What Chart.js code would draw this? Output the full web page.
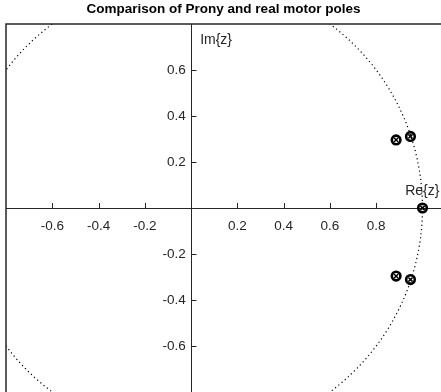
<!DOCTYPE html>
<html>
<head>
<meta charset="utf-8">
<script src="https://cdn.jsdelivr.net/npm/chart.js@4.4.0/dist/chart.umd.min.js"></script>
<style>
  html, body { margin: 0; padding: 0; background: #fff; }
  #wrap { width: 441px; height: 392px; }
</style>
</head>
<body>
<div id="wrap"><canvas id="poles"></canvas></div>
<script>
// z-plane pole locations (real part / imaginary part)
const realPolesRe = [0.886, 0.886, 0.948, 0.948, 1.0];
const realPolesIm = [0.296, -0.296, 0.311, -0.311, 0.0];
const pronyPolesRe = [0.886, 0.886, 0.948, 0.948, 1.0];
const pronyPolesIm = [0.296, -0.296, 0.311, -0.311, 0.0];

const xTicks = [-0.6, -0.4, -0.2, 0.2, 0.4, 0.6, 0.8];
const yTicks = [-0.6, -0.4, -0.2, 0.2, 0.4, 0.6];

const INK = "#262626";
const FONT = "'Liberation Sans', Arial, sans-serif";

const toPoints = (re, im) => re.map((x, i) => ({ x, y: im[i] }));

// axes sit inside the plot, so they should not push the chart area in
const noPadding = s => {
  s.paddingTop = s.paddingBottom = s.paddingLeft = s.paddingRight = 0;
};

// unit circle, frame, imaginary axis line, inward tick marks and axis names
const zPlane = {
  id: "zPlane",
  beforeDatasetsDraw(chart) {
    const { ctx, chartArea: a, scales: { x, y } } = chart;
    const cx = x.getPixelForValue(0), cy = y.getPixelForValue(0);
    const rx = x.getPixelForValue(1) - cx;
    const ry = cy - y.getPixelForValue(1);

    ctx.save();
    ctx.beginPath();
    ctx.rect(a.left, a.top, a.right - a.left, a.bottom - a.top);
    ctx.clip();
    ctx.strokeStyle = "#000";
    ctx.lineWidth = 1.2;
    ctx.setLineDash([1.2, 3]);
    ctx.beginPath();
    ctx.ellipse(cx, cy, rx, ry, 0, 0, Math.PI * 2);
    ctx.stroke();
    ctx.restore();

    ctx.save();
    ctx.strokeStyle = INK;
    ctx.lineWidth = 1.5;
    ctx.beginPath();
    ctx.moveTo(a.left, a.bottom);
    ctx.lineTo(a.left, a.top);
    ctx.lineTo(a.right, a.top);
    ctx.stroke();

    ctx.lineWidth = 1;
    ctx.beginPath();
    const ax = Math.round(cx) + 0.5;
    ctx.moveTo(ax, a.top);
    ctx.lineTo(ax, a.bottom);
    // tick marks point into the upper / right half
    x.ticks.forEach(t => {
      const px = Math.round(x.getPixelForValue(t.value)) + 0.5;
      ctx.moveTo(px, cy);
      ctx.lineTo(px, cy - 5);
    });
    y.ticks.forEach(t => {
      const py = Math.round(y.getPixelForValue(t.value)) + 0.5;
      ctx.moveTo(ax, py);
      ctx.lineTo(ax + 5, py);
    });
    ctx.stroke();

    ctx.fillStyle = INK;
    ctx.font = "14px " + FONT;
    ctx.textBaseline = "middle";
    ctx.textAlign = "left";
    ctx.fillText("Im{z}", x.getPixelForValue(0.039), y.getPixelForValue(0.73));
    ctx.fillText("Re{z}", x.getPixelForValue(0.925), y.getPixelForValue(0.075));
    ctx.restore();
  }
};

new Chart(document.getElementById("poles"), {
  type: "scatter",
  data: {
    datasets: [
      {
        label: "Real motor poles",
        data: toPoints(realPolesRe, realPolesIm),
        pointStyle: "circle",
        pointRadius: 4.3,
        borderColor: "#000",
        backgroundColor: "rgba(0,0,0,0)",
        borderWidth: 2.6,
      },
      {
        label: "Prony poles",
        data: toPoints(pronyPolesRe, pronyPolesIm),
        pointStyle: "crossRot",
        pointRadius: 3,
        borderColor: "#000",
        borderWidth: 1.5,
      },
    ],
  },
  plugins: [zPlane],
  options: {
    responsive: true,
    maintainAspectRatio: false,
    animation: false,
    layout: { autoPadding: false, padding: { left: 6, right: 0, bottom: 0 } },
    plugins: {
      legend: { display: false },
      tooltip: { enabled: false },
      title: {
        display: true,
        text: "Comparison of Prony and real motor poles",
        color: "#000",
        font: { family: FONT, size: 13.5, weight: "bold" },
        padding: { top: 1, bottom: 6.8 },
      },
    },
    scales: {
      x: {
        type: "linear",
        min: -0.8,
        max: 1.08,
        position: { y: 0 },
        afterBuildTicks: s => { s.ticks = xTicks.map(v => ({ value: v })); },
        afterFit: noPadding,
        grid: { display: false, drawTicks: false },
        border: { display: true, color: INK, width: 1 },
        ticks: {
          color: INK,
          font: { family: FONT, size: 13.5 },
          padding: 10,
          maxRotation: 0,
        },
      },
      y: {
        type: "linear",
        min: -0.8,
        max: 0.8,
        // labels are right-aligned to this position, a few pixels left of Re=0
        position: { x: -0.023 },
        afterBuildTicks: s => { s.ticks = yTicks.map(v => ({ value: v })); },
        afterFit: noPadding,
        grid: { display: false, drawTicks: false },
        border: { display: false },
        ticks: {
          color: INK,
          font: { family: FONT, size: 13.5 },
        },
      },
    },
  },
});
</script>
</body>
</html>
